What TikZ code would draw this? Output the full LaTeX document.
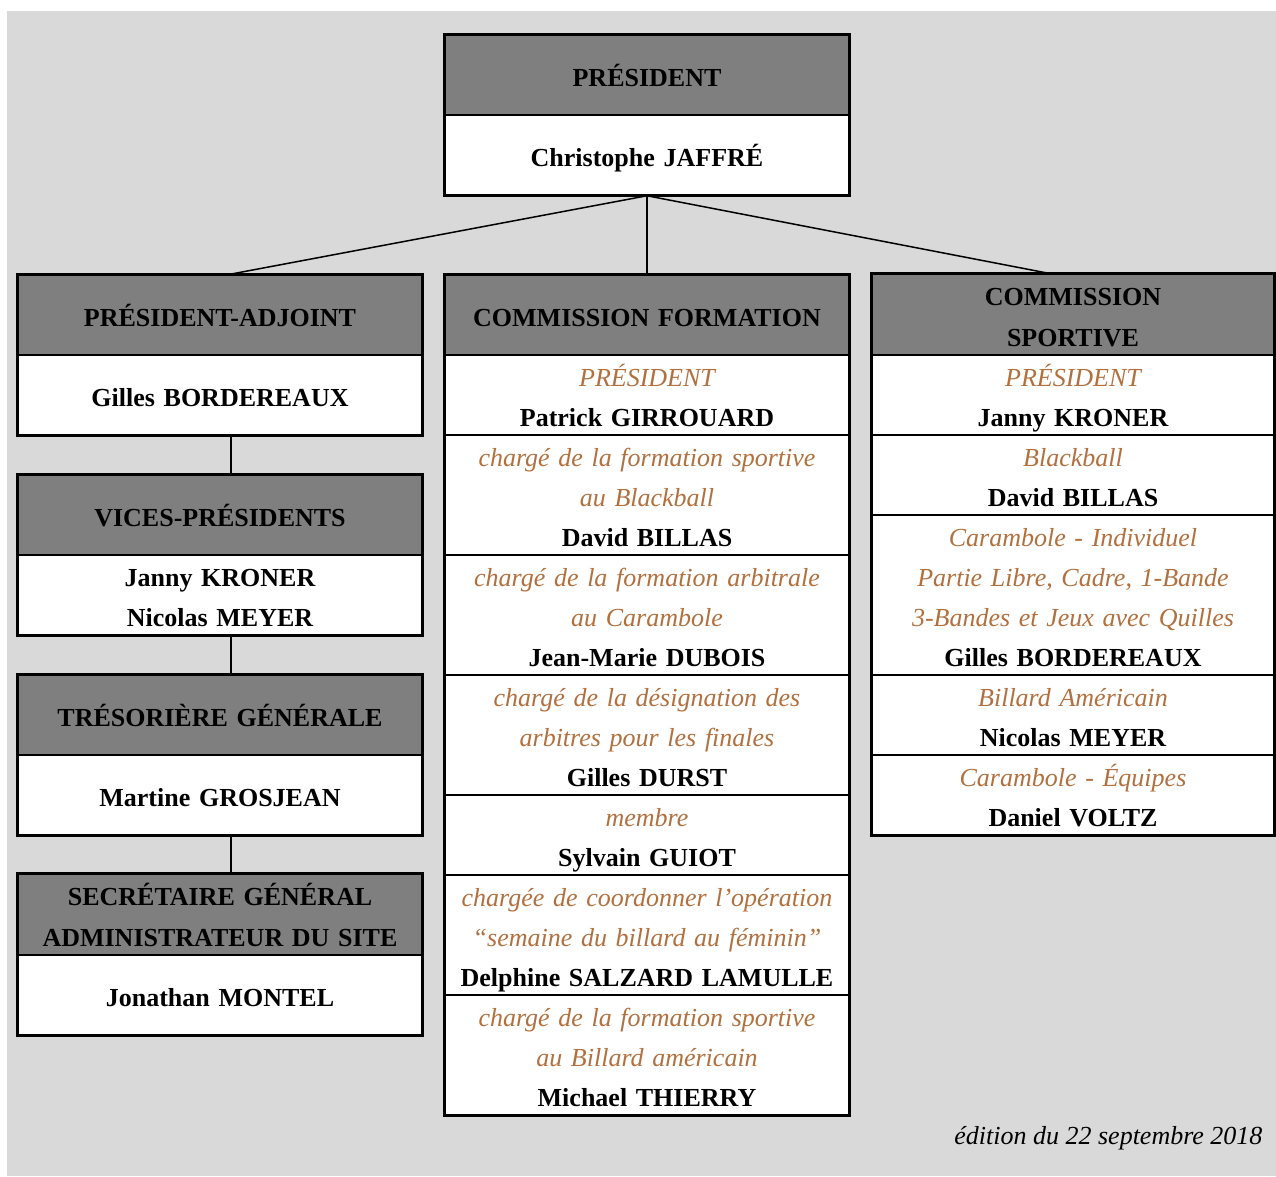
\documentclass[tikz,border=0pt]{standalone}
\usepackage{fontspec}
\setmainfont{Liberation Serif}
\usepackage{tikz}
\usetikzlibrary{positioning}

\definecolor{bggray}{RGB}{217,217,217}
\definecolor{headgray}{RGB}{127,127,127}
\definecolor{rolebrown}{RGB}{178,112,62}
\newcommand{\roletxt}[1]{{\color{rolebrown}\mdseries\itshape #1}}
\newcommand{\cellstrut}{\rule[-9pt]{0pt}{40pt}}

\begin{document}
\begin{tikzpicture}[x=1pt, y=-1pt]


\tikzstyle{head_style} = [rectangle, draw=black, fill=headgray, line width=1.5, minimum width=404, minimum height=80, inner sep=0, text width=400, align=center, font=\fontsize{26}{39}\selectfont\bfseries, execute at begin node=\cellstrut, execute at end node=\cellstrut]
\tikzstyle{cell_style} = [rectangle, draw=black, fill=white, line width=1.5, minimum width=404, inner sep=0, text width=400, align=center, font=\fontsize{26}{40}\selectfont\bfseries, execute at begin node=\cellstrut, execute at end node=\cellstrut]
\tikzstyle{frame_style} = [draw=black, line width=3]
\tikzstyle{edge_style} = [draw=black, line width=1.5]

\useasboundingbox (0,0) rectangle (1276,1176);
\fill[bggray] (7,11) rectangle (1276,1176);

% president
\node[head_style] (pres_head) at (647, 75) {PRÉSIDENT};
\node[cell_style, minimum height=80] (pres_name) at (647, 155) {Christophe JAFFRÉ};

% left column
\node[head_style] (adj_head) at (220, 315) {PRÉSIDENT-ADJOINT};
\node[cell_style, minimum height=80] (adj_name) at (220, 395) {Gilles BORDEREAUX};
\node[head_style] (vp_head) at (220, 515) {VICES-PRÉSIDENTS};
\node[cell_style, minimum height=80] (vp_name) at (220, 595) {Janny KRONER\\Nicolas MEYER};
\node[head_style] (tres_head) at (220, 715) {TRÉSORIÈRE GÉNÉRALE};
\node[cell_style, minimum height=80] (tres_name) at (220, 795) {Martine GROSJEAN};
\node[head_style] (sec_head) at (220, 915) {SECRÉTAIRE GÉNÉRAL\\ADMINISTRATEUR DU SITE};
\node[cell_style, minimum height=80] (sec_name) at (220, 995) {Jonathan MONTEL};

% commission formation
\node[head_style] (cf_head) at (647, 315) {COMMISSION FORMATION};
\node[cell_style, minimum height=80] (cf1) at (647, 395) {\roletxt{PRÉSIDENT}\\Patrick GIRROUARD};
\node[cell_style, minimum height=120] (cf2) at (647, 495) {\roletxt{chargé de la formation sportive}\\\roletxt{au Blackball}\\David BILLAS};
\node[cell_style, minimum height=120] (cf3) at (647, 615) {\roletxt{chargé de la formation arbitrale}\\\roletxt{au Carambole}\\Jean-Marie DUBOIS};
\node[cell_style, minimum height=120] (cf4) at (647, 735) {\roletxt{chargé de la désignation des}\\\roletxt{arbitres pour les finales}\\Gilles DURST};
\node[cell_style, minimum height=80] (cf5) at (647, 835) {\roletxt{membre}\\Sylvain GUIOT};
\node[cell_style, minimum height=120] (cf6) at (647, 935) {\roletxt{chargée de coordonner l’opération}\\\roletxt{“semaine du billard au féminin”}\\Delphine SALZARD LAMULLE};
\node[cell_style, minimum height=120] (cf7) at (647, 1055) {\roletxt{chargé de la formation sportive}\\\roletxt{au Billard américain}\\Michael THIERRY};

% commission sportive
\node[head_style, minimum width=402] (cs_head) at (1073, 315) {COMMISSION\\SPORTIVE};
\node[cell_style, minimum width=402, minimum height=80] (cs1) at (1073, 395) {\roletxt{PRÉSIDENT}\\Janny KRONER};
\node[cell_style, minimum width=402, minimum height=80] (cs2) at (1073, 475) {\roletxt{Blackball}\\David BILLAS};
\node[cell_style, minimum width=402, minimum height=160] (cs3) at (1073, 595) {\roletxt{Carambole - Individuel}\\\roletxt{Partie Libre, Cadre, 1-Bande}\\\roletxt{3-Bandes et Jeux avec Quilles}\\Gilles BORDEREAUX};
\node[cell_style, minimum width=402, minimum height=80] (cs4) at (1073, 715) {\roletxt{Billard Américain}\\Nicolas MEYER};
\node[cell_style, minimum width=402, minimum height=80] (cs5) at (1073, 795) {\roletxt{Carambole - Équipes}\\Daniel VOLTZ};

% outer frames
\draw[frame_style] (pres_head.north west) rectangle (pres_name.south east);
\draw[frame_style] (adj_head.north west) rectangle (adj_name.south east);
\draw[frame_style] (vp_head.north west) rectangle (vp_name.south east);
\draw[frame_style] (tres_head.north west) rectangle (tres_name.south east);
\draw[frame_style] (sec_head.north west) rectangle (sec_name.south east);
\draw[frame_style] (cf_head.north west) rectangle (cf7.south east);
\draw[frame_style] (cs_head.north west) rectangle (cs5.south east);

\draw[edge_style]  (pres_name.south) -- ([xshift=10]adj_head.north);
\draw[edge_style]  (pres_name.south) -- (cf_head.north);
\draw[edge_style]  (pres_name.south) -- ([xshift=-22]cs_head.north);
\draw[edge_style]  ([xshift=11]adj_name.south) -- ([xshift=11]vp_head.north);
\draw[edge_style]  ([xshift=11]vp_name.south) -- ([xshift=11]tres_head.north);
\draw[edge_style]  ([xshift=11]tres_name.south) -- ([xshift=11]sec_head.north);

\node[anchor=east, font=\fontsize{26}{30}\selectfont\itshape] (edition) at (1266, 1138) {édition du 22 septembre 2018};

\end{tikzpicture}
\end{document}
